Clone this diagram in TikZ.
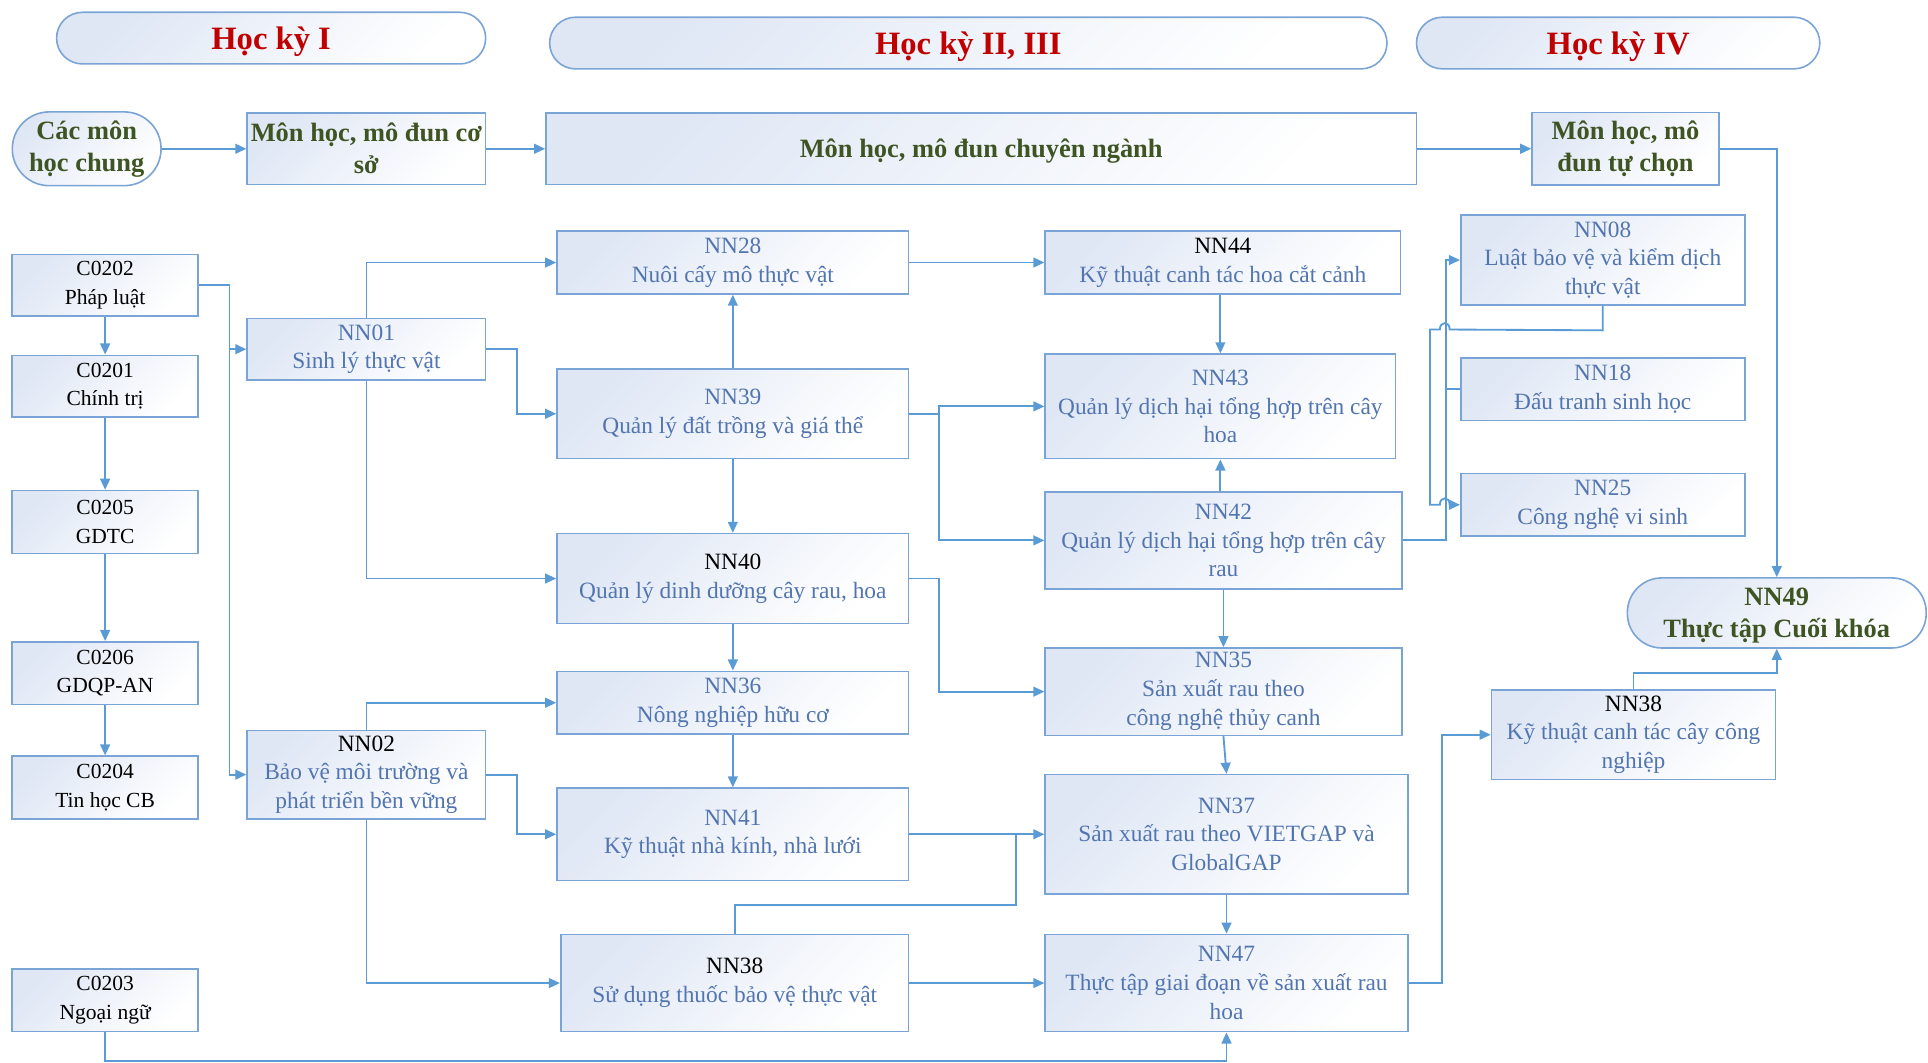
\documentclass[tikz,border=0pt]{standalone}
\usepackage{fontspec}
\setmainfont{Liberation Serif}
\usetikzlibrary{arrows.meta}
\definecolor{bord}{HTML}{7BA4D6}
\definecolor{lnc}{HTML}{5B9BD5}
\definecolor{tblue}{HTML}{5275B0}
\definecolor{olive}{HTML}{3E5523}
\definecolor{hred}{HTML}{C00000}
\definecolor{bfill}{HTML}{DFE7F5}
\tikzset{
 box/.style={draw=bord, line width=1.3pt, top color=bfill, bottom color=white, shading angle=45,
   align=center, inner sep=0pt, font=\fontsize{19}{23.5}\selectfont, text=tblue},
 cbox/.style={box, text=black, minimum width=151pt, minimum height=50pt, font=\fontsize{17.5}{23}\selectfont},
 head/.style={box, minimum height=42pt, rounded corners=21pt, text=hred, font=\fontsize{26.5}{30}\selectfont\bfseries},
 big/.style={box, text=olive, font=\fontsize{21.5}{26}\selectfont\bfseries},
 conn/.style={draw=lnc, line width=1.5pt, -{Triangle[length=9pt,width=8pt]}},
 plain/.style={draw=lnc, line width=1.5pt},
}
\newcommand{\blk}[1]{\textcolor{black}{#1}}
\newcommand{\dn}[2]{\raisebox{-#1pt}[\height][\depth]{#2}}
\begin{document}
\begin{tikzpicture}[x=1pt,y=-1pt]
\useasboundingbox (0,0) rectangle (1568,864);
% headers
\node[head, minimum width=349pt] (hk1) at (220.5,31) {\dn{3}{Học kỳ I}};
\node[head, minimum width=681pt] (hk23) at (787.5,35) {\dn{3}{Học kỳ II, III}};
\node[head, minimum width=328pt] (hk4) at (1316,35) {\dn{3}{Học kỳ IV}};
% row 2
\node[big, minimum width=121pt, minimum height=60pt, rounded corners=30pt] (chung) at (70.5,121) {Các môn\\học chung};
\node[big, minimum width=194pt, minimum height=58pt] (coso) at (298,121) {Môn học, mô đun cơ\\sở};
\node[big, minimum width=708pt, minimum height=58pt] (chuyen) at (798,121) {\dn{2}{Môn học, mô đun chuyên ngành}};
\node[big, minimum width=152pt, minimum height=59pt] (tuchon) at (1322,121) {Môn học, mô\\đun tự chọn};
% left column
\node[cbox] (c0202) at (85.5,232) {C0202\\Pháp luật};
\node[cbox] (c0201) at (85.5,314) {C0201\\Chính trị};
\node[cbox, minimum height=51pt] (c0205) at (85.5,424.5) {C0205\\GDTC};
\node[cbox, minimum height=51pt] (c0206) at (85.5,547.5) {C0206\\GDQP-AN};
\node[cbox, minimum height=51pt] (c0204) at (85.5,640.5) {C0204\\Tin học CB};
\node[cbox, minimum height=51pt] (c0203) at (85.5,813.5) {C0203\\Ngoại ngữ};
% column 2
\node[box, minimum width=194pt, minimum height=50pt] (nn01) at (298,284) {NN01\\Sinh lý thực vật};
\node[box, minimum width=194pt, minimum height=72pt] (nn02) at (298,630) {\blk{NN02}\\Bảo vệ môi trường và\\phát triển bền vững};
% column 3
\node[box, minimum width=286pt, minimum height=51pt] (nn28) at (596,213.5) {NN28\\Nuôi cấy mô thực vật};
\node[box, minimum width=286pt, minimum height=73pt] (nn39) at (596,336.5) {NN39\\Quản lý đất trồng và giá thể};
\node[box, minimum width=286pt, minimum height=73pt] (nn40) at (596,470.5) {\blk{NN40}\\Quản lý dinh dưỡng cây rau, hoa};
\node[box, minimum width=286pt, minimum height=51pt] (nn36) at (596,571.5) {NN36\\Nông nghiệp hữu cơ};
\node[box, minimum width=286pt, minimum height=75pt] (nn41) at (596,678.5) {NN41\\Kỹ thuật nhà kính, nhà lưới};
\node[box, minimum width=283pt, minimum height=79pt] (nn38) at (597.5,799.5) {\blk{NN38}\\Sử dụng thuốc bảo vệ thực vật};
% column 4
\node[box, minimum width=289pt, minimum height=51pt] (nn44) at (994.5,213.5) {\blk{NN44}\\Kỹ thuật canh tác hoa cắt cảnh};
\node[box, minimum width=285pt, minimum height=85pt] (nn43) at (992.5,330.5) {NN43\\Quản lý dịch hại tổng hợp trên cây\\hoa};
\node[box, minimum width=290pt, minimum height=79pt] (nn42) at (995,439.5) {NN42\\Quản lý dịch hại tổng hợp trên cây\\rau};
\node[box, minimum width=290pt, minimum height=71pt] (nn35) at (995,562.5) {NN35\\Sản xuất rau theo\\công nghệ thủy canh};
\node[box, minimum width=295pt, minimum height=97pt] (nn37) at (997.5,678.5) {NN37\\Sản xuất rau theo VIETGAP và\\GlobalGAP};
\node[box, minimum width=295pt, minimum height=79pt] (nn47) at (997.5,799.5) {NN47\\Thực tập giai đoạn về sản xuất rau\\hoa};
% column 5
\node[box, minimum width=231pt, minimum height=73pt] (nn08) at (1303.5,211.5) {NN08\\Luật bảo vệ và kiểm dịch\\thực vật};
\node[box, minimum width=231pt, minimum height=51pt] (nn18) at (1303.5,316.5) {NN18\\Đấu tranh sinh học};
\node[box, minimum width=231pt, minimum height=51pt] (nn25) at (1303.5,410.5) {NN25\\Công nghệ vi sinh};
\node[big, minimum width=243pt, minimum height=57pt, rounded corners=28pt] (nn49) at (1445,498.5) {\dn{2}{\begin{tabular}{@{}c@{}}NN49\\Thực tập Cuối khóa\end{tabular}}};
\node[box, minimum width=231pt, minimum height=73pt] (nn38b) at (1328.5,597.5) {\blk{NN38}\\Kỹ thuật canh tác cây công\\nghiệp};
% connectors row 2
\draw[conn] (chung) -- (coso);
\draw[conn] (coso) -- (chuyen);
\draw[conn] (chuyen) -- (tuchon);
\draw[conn] (tuchon.east) -| (nn49.north);
% left column
\draw[conn] (c0202) -- (c0201);
\draw[conn] (c0201) -- (c0205);
\draw[conn] (c0205) -- (c0206);
\draw[conn] (c0206) -- (c0204);
\draw[conn] (c0202.east) -- ++(25,0) |- (nn01.west);
\draw[conn] (c0202.east) -- ++(25,0) |- (nn02.west);
\draw[conn] (c0203.south) -- ++(0,23) -| (nn47.south);
% column 2 out
\draw[conn] (nn01.north) |- (nn28.west);
\draw[conn] (nn01.east) -- ++(25,0) |- (nn39.west);
\draw[conn] (nn01.south) |- (nn40.west);
\draw[conn] (nn02.north) |- (nn36.west);
\draw[conn] (nn02.east) -- ++(25,0) |- (nn41.west);
\draw[conn] (nn02.south) |- (nn38.west);
% column 3
\draw[conn] (nn39) -- (nn28);
\draw[conn] (nn39) -- (nn40);
\draw[conn] (nn40) -- (nn36);
\draw[conn] (nn36) -- (nn41);
\draw[conn] (nn41.east) -- (nn37.west);
\coordinate (j4) at (826,678.5);
\draw[plain] (nn38.north) -- ++(0,-23) -| (j4);
\draw[conn] (nn28.east) -- (nn44.west);
\draw[conn] (nn39.east) -- ++(24,0) |- (nn43.west);
\draw[conn] (nn39.east) -- ++(24,0) |- (nn42.west);
\draw[conn] (nn40.east) -- ++(24,0) |- (nn35.west);
\draw[conn] (nn38.east) -- (nn47.west);
% column 4
\draw[conn] (nn43.north |- nn44.south) -- (nn43.north);
\draw[conn] (nn42.north -| nn43.south) -- (nn43.south);
\draw[conn] (nn42) -- (nn35);
\draw[conn] (nn35.south) -- (nn37.north);
\draw[conn] (nn37) -- (nn47);
\draw[conn] (nn47.east) -- ++(27,0) |- (nn38b.west);
\draw[conn] (nn42.east) -- ++(35,0) |- (nn08.west);
\draw[plain] (nn42.east) -- ++(35,0) |- (nn18.west);
\draw[conn] (nn08.south) -- ++(0,20) -- (1179,268) .. controls (1179,261) and (1171,261) .. (1171,268) -- (1163,268) -- (1163,410.5) -- (1171,410.5) .. controls (1171,403.5) and (1179,403.5) .. (1179,410.5) -- (nn25.west);
\draw[conn] (nn38b.north) -- ++(0,-13) -| (nn49.south);
\end{tikzpicture}
\end{document}
